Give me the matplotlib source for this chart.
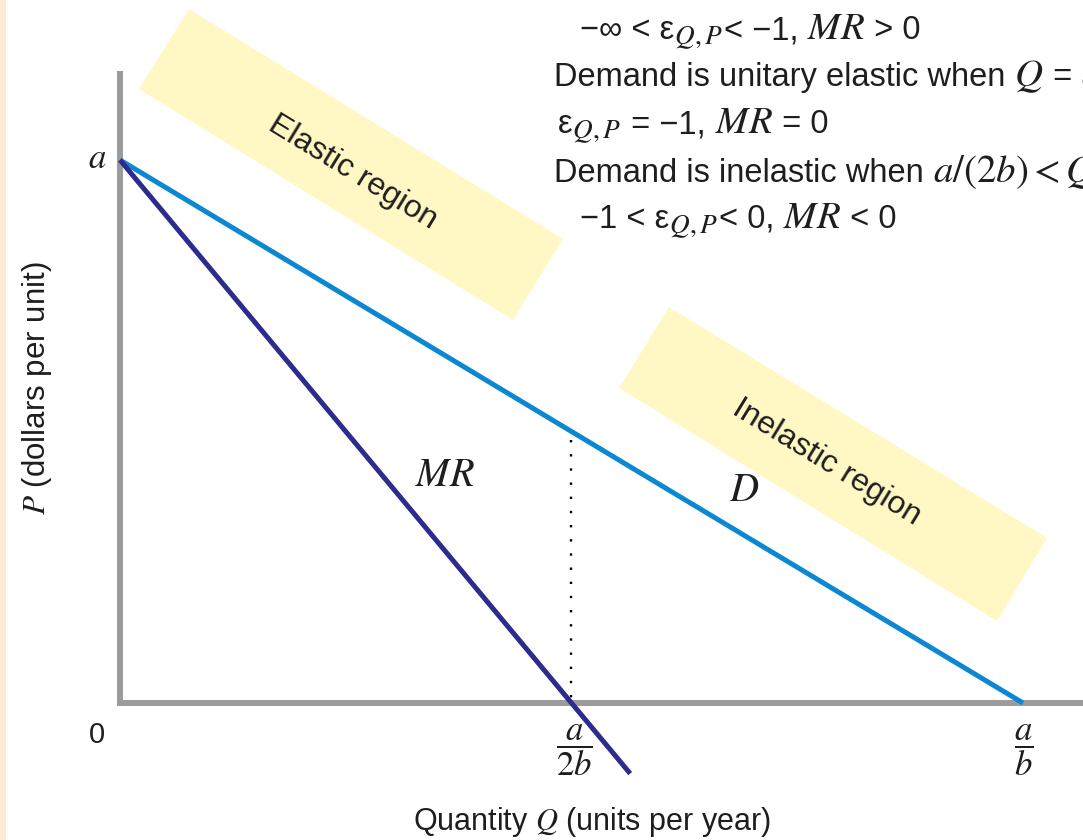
import matplotlib
matplotlib.use("Agg")
import matplotlib.pyplot as plt
from matplotlib.patches import Polygon, Rectangle
from matplotlib.font_manager import FontProperties

plt.rcParams['font.family'] = ['Liberation Sans', 'DejaVu Sans']
plt.rcParams['mathtext.fontset'] = 'stix'

# ---- data (P = a - bQ with a = b = 1) ----
demand_q = [0.0, 1.0]
demand_p = [1.0, 0.0]
mr_q = [0.0, 0.565]
mr_p = [1.0, -0.13]
unit_q = [0.5, 0.5]
unit_p = [0.484, 0.01]
axis_path_q = [0.0, 0.0, 1.08]
axis_path_p = [1.164, 0.0, 0.0]

W, H = 1083, 840
fig = plt.figure(figsize=(W / 100, H / 100), dpi=100)
fig.patch.set_facecolor('white')
ax = fig.add_axes([0, 0, 1, 1])
ax.set_xlim(-0.13289, 1.06645)
ax.set_ylim(-0.2523, 1.29466)
ax.axis('off')


def px(x, y):
    return (x / W, 1 - y / H)


TXT = '#1E1E1E'

# left cream strip
fig.patches.append(Rectangle((0, 0), 6 / W, 1, transform=fig.transFigure,
                             facecolor='#FBEBD2', edgecolor='none', zorder=0))

# yellow region boxes
box_color = '#FFF8C4'
elastic_box = [px(189, 9), px(563, 239), px(513, 320), px(139, 89)]
inelastic_box = [px(669, 307), px(1047, 538), px(997, 621), px(619, 388)]
for pts in (elastic_box, inelastic_box):
    ax.add_patch(Polygon(pts, closed=True, transform=fig.transFigure,
                         facecolor=box_color, edgecolor='none', zorder=1))

fig.text(*px(353, 172), 'Elastic region', rotation=-31.5, fontsize=23,
         ha='center', va='center', color=TXT, rotation_mode='anchor')
fig.text(*px(827, 462), 'Inelastic region', rotation=-31.5, fontsize=23,
         ha='center', va='center', color=TXT, rotation_mode='anchor')

# axes
ax.plot(axis_path_q, axis_path_p, color='#9B9B9B', lw=4.3,
        solid_joinstyle='miter', solid_capstyle='butt', zorder=2)

# curves
ax.plot(demand_q, demand_p, color='#0C87D2', lw=3.6, solid_capstyle='butt', zorder=3)
ax.plot(mr_q, mr_p, color='#2E2B8E', lw=3.6, solid_capstyle='butt', zorder=4)
ax.plot(unit_q, unit_p, color='black', lw=1.7, linestyle=(0, (1, 5)), zorder=3)

# curve labels
fig.text(*px(445, 475), r'$MR$', fontsize=29, ha='center', va='center', color=TXT)
fig.text(*px(744, 490), r'$D$', fontsize=29, ha='center', va='center', color=TXT)

# axis labels
fig.text(*px(97, 735), '0', fontsize=21, ha='center', va='center', color=TXT)
fig.text(*px(97, 158), r'$a$', fontsize=25, ha='center', va='center', color=TXT)
fig.text(*px(574, 750), r'$\dfrac{a}{2b}$', fontsize=25, ha='center', va='center', color=TXT)
fig.text(*px(1024, 750), r'$\dfrac{a}{b}$', fontsize=25, ha='center', va='center', color=TXT)
fig.text(*px(592, 822), r'Quantity $Q$ (units per year)', fontsize=22,
         ha='center', va='center', color=TXT)
fig.text(*px(37, 388), r'$P$ (dollars per unit)', fontsize=22.5, rotation=90,
         ha='center', va='center', color=TXT)

# explanatory text block: segments of (text, is_math)
SANS_SIZE = 23.5
MATH_SIZE = 28
block_lines = [
    (554, -7, [('Demand is elastic when 0 < ', False), ('$Q$', True), (' < ', False),
               ('$a/(2b)$', True)]),
    (580, 39, [('−∞ < ε', False), ('${}_{Q,P}$', True), ('< −1, ', False),
               ('$MR$', True), (' > 0', False)]),
    (554, 86, [('Demand is unitary elastic when ', False), ('$Q$', True), (' = ', False),
               ('$a/(2b)$', True)]),
    (558, 133, [('ε', False), ('${}_{Q,P}$', True), (' = −1, ', False),
                ('$MR$', True), (' = 0', False)]),
    (554, 182, [('Demand is inelastic when ', False), ('$a/(2b) < Q < a/b$', True)]),
    (580, 228, [('−1 < ε', False), ('${}_{Q,P}$', True), ('< 0, ', False),
                ('$MR$', True), (' < 0', False)]),
]

renderer = fig.canvas.get_renderer()


def seg_width(s, size, math):
    fp = FontProperties(family=['Liberation Sans', 'DejaVu Sans'], size=size)
    if math:
        w, _, _ = renderer.get_text_width_height_descent(s, fp, ismath=True)
        return w
    w1, _, _ = renderer.get_text_width_height_descent('X' + s + 'X', fp, ismath=False)
    w2, _, _ = renderer.get_text_width_height_descent('XX', fp, ismath=False)
    return w1 - w2


for x0, y0, segs in block_lines:
    x = x0
    for s, is_math in segs:
        size = MATH_SIZE if is_math else SANS_SIZE
        fig.text(*px(x, y0), s, fontsize=size, ha='left', va='baseline', color=TXT)
        x += seg_width(s, size, is_math)

fig.savefig('out.png', dpi=100)
